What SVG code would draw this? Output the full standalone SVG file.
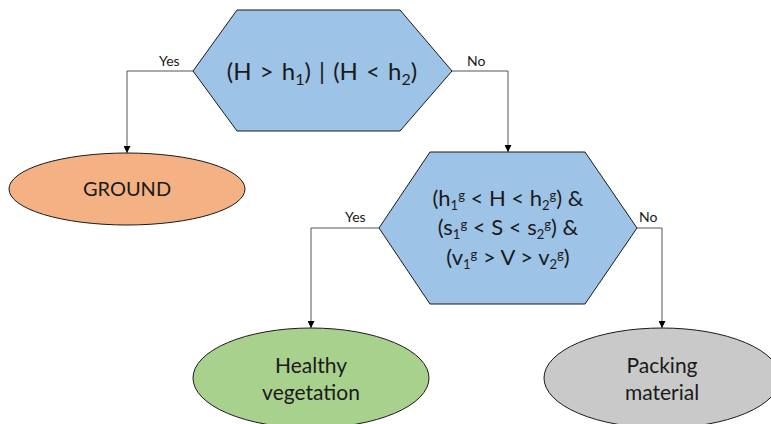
<svg xmlns="http://www.w3.org/2000/svg" width="771" height="424" viewBox="0 0 771 424">
<style>
  .hex{fill:#9DC3E6;stroke:#1a1a1a;stroke-width:1}
  .node{stroke:#1a1a1a;stroke-width:1}
  .t{font-family:Lato,"Open Sans",sans-serif;fill:#1a1a1a;text-anchor:middle}
  .lbl{font-family:Lato,"Open Sans",sans-serif;fill:#1a1a1a;font-size:14px}
  .c{fill:none;stroke:#555;stroke-width:1}
</style>
<defs>
  <marker id="arr" viewBox="0 0 10 10" refX="10" refY="5" markerWidth="7" markerHeight="7" markerUnits="userSpaceOnUse" orient="auto">
    <path d="M0,0 L10,5 L0,10 z" fill="#000"/>
  </marker>
</defs>
<g id="connectors">
  <polyline class="c" points="193,71 127,71 127,153" marker-end="url(#arr)"/>
  <polyline class="c" points="452,71 508,71 508,152" marker-end="url(#arr)"/>
  <polyline class="c" points="379,228 311,228 311,328" marker-end="url(#arr)"/>
  <polyline class="c" points="637,228 662,228 662,328" marker-end="url(#arr)"/>
  <text class="lbl" x="159" y="66">Yes</text>
  <text class="lbl" x="467" y="66">No</text>
  <text class="lbl" x="345" y="222">Yes</text>
  <text class="lbl" x="639" y="222">No</text>
</g>
<g id="decision1">
  <polygon class="hex" points="237,10 400,10 452,71 400,131 237,131 193,71"/>
  <text class="t" x="322" y="80" font-size="24" word-spacing="2">(H &gt; h<tspan font-size="16" dy="5">1</tspan><tspan dy="-5">) | (H &lt; h</tspan><tspan font-size="16" dy="5">2</tspan><tspan dy="-5">)</tspan></text>
</g>
<g id="decision2">
  <polygon class="hex" points="430,152 585,152 637,228 585,304 430,304 379,228"/>
  <text class="t" x="508" y="206" font-size="22">(h<tspan font-size="13" dy="4">1</tspan><tspan font-size="13" dy="-10">g</tspan><tspan dy="6"> &lt; H &lt; h</tspan><tspan font-size="13" dy="4">2</tspan><tspan font-size="13" dy="-10">g</tspan><tspan dy="6">) &amp;</tspan></text>
  <text class="t" x="508" y="235" font-size="22">(s<tspan font-size="13" dy="4">1</tspan><tspan font-size="13" dy="-10">g</tspan><tspan dy="6"> &lt; S &lt; s</tspan><tspan font-size="13" dy="4">2</tspan><tspan font-size="13" dy="-10">g</tspan><tspan dy="6">) &amp;</tspan></text>
  <text class="t" x="508" y="265" font-size="22">(v<tspan font-size="13" dy="4">1</tspan><tspan font-size="13" dy="-10">g</tspan><tspan dy="6"> &gt; V &gt; v</tspan><tspan font-size="13" dy="4">2</tspan><tspan font-size="13" dy="-10">g</tspan><tspan dy="6">)</tspan></text>
</g>
<g id="ground">
  <ellipse class="node" cx="127" cy="189" rx="118" ry="36" fill="#F4B183"/>
  <text class="t" x="127" y="196" font-size="20">GROUND</text>
</g>
<g id="healthy">
  <ellipse class="node" cx="311" cy="378" rx="118" ry="50" fill="#A9D18E"/>
  <text class="t" x="311" y="373" font-size="21">Healthy</text>
  <text class="t" x="311" y="400" font-size="21">vegetation</text>
</g>
<g id="packing">
  <ellipse class="node" cx="662" cy="378" rx="118" ry="50" fill="#C9C9C9"/>
  <text class="t" x="662" y="373" font-size="21">Packing</text>
  <text class="t" x="662" y="400" font-size="21">material</text>
</g>
</svg>
